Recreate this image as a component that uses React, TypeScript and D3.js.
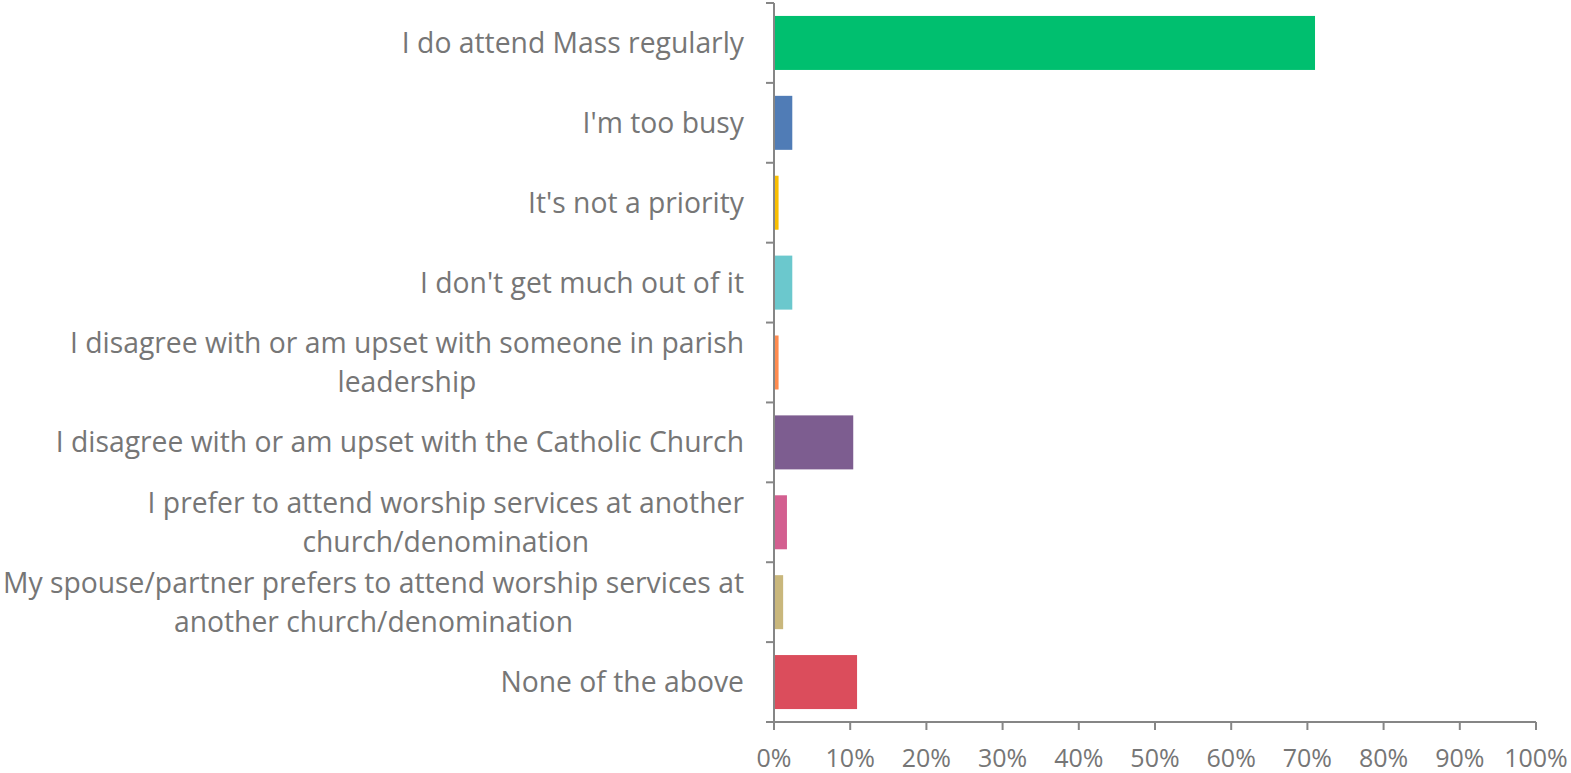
import React, { useEffect, useRef } from "react";
import * as d3 from "d3";

const categories: string[] = [
  "I do attend Mass regularly",
  "I'm too busy",
  "It's not a priority",
  "I don't get much out of it",
  "I disagree with or am upset with someone in parish\nleadership",
  "I disagree with or am upset with the Catholic Church",
  "I prefer to attend worship services at another\nchurch/denomination",
  "My spouse/partner prefers to attend worship services at\nanother church/denomination",
  "None of the above",
];
const values: number[] = [0.71, 0.024, 0.006, 0.024, 0.006, 0.104, 0.017, 0.012, 0.109];
const colors: string[] = [
  "#00BF6F", "#507CB6", "#F9BE00", "#6BC8CD", "#FF8B4F",
  "#7D5D90", "#D35F90", "#C9B77C", "#DB4D5C",
];
const xTicks: number[] = [0, 0.1, 0.2, 0.3, 0.4, 0.5, 0.6, 0.7, 0.8, 0.9, 1.0];

const W = 1571;
const H = 773;
const FONT = "'Open Sans', sans-serif";
const FS = 28.3;
const TFS = 25;
const TEXT = "#767676";
const AXIS = "#868686";

export default function App() {
  const ref = useRef<SVGSVGElement>(null);
  useEffect(() => {
    const svg = d3.select(ref.current);
    svg.selectAll("*").remove();
    const x = d3.scaleLinear().domain([0, 1]).range([774, 1536]);
    const y = d3.scaleBand<string>().domain(categories).range([3, 722]).paddingInner(0.324).paddingOuter(0.162);

    svg.append("g").selectAll("rect").data(categories).join("rect")
      .attr("x", x(0))
      .attr("y", (d) => y(d)!)
      .attr("width", (d, i) => x(values[i]) - x(0))
      .attr("height", y.bandwidth())
      .attr("fill", (d, i) => colors[i]);

    const g = svg.append("g").attr("stroke", AXIS).attr("stroke-width", 2).attr("fill", "none");
    g.append("line").attr("x1", x(0)).attr("x2", x(0)).attr("y1", 3).attr("y2", 722);
    g.append("line").attr("x1", x(0) - 8).attr("x2", x(1)).attr("y1", 722).attr("y2", 722);
    const bounds = d3.range(categories.length + 1).map((i) => 3 + i * (719 / categories.length));
    g.selectAll("line.yt").data(bounds).join("line").attr("class", "yt")
      .attr("x1", x(0) - 8).attr("x2", x(0)).attr("y1", (d) => d).attr("y2", (d) => d);
    g.selectAll("line.xt").data(xTicks).join("line").attr("class", "xt")
      .attr("x1", (d) => x(d)).attr("x2", (d) => x(d)).attr("y1", 722).attr("y2", 730);

    const fmt = d3.format(".0%");
    svg.append("g").selectAll("text").data(xTicks).join("text")
      .attr("x", (d) => x(d)).attr("y", 767)
      .attr("text-anchor", "middle")
      .attr("font-family", FONT).attr("font-size", TFS).attr("fill", TEXT)
      .text((d) => fmt(d));

    const lg = svg.append("g");
    categories.forEach((c) => {
      const lines = c.split("\n");
      const cy = y(c)! + y.bandwidth() / 2;
      const lh = 39;
      const texts = lines.map((l, j) =>
        lg.append("text")
          .attr("y", cy + (j - (lines.length - 1) / 2) * lh)
          .attr("dy", "0.35em")
          .attr("font-family", FONT).attr("font-size", FS).attr("fill", TEXT)
          .text(l)
      );
      const widths = texts.map((t) => (t.node() as SVGTextElement).getComputedTextLength());
      const maxW = Math.max(...widths);
      const cx = 744 - maxW / 2;
      texts.forEach((t) => t.attr("x", cx).attr("text-anchor", "middle"));
    });
  }, []);
  return (
    <svg ref={ref} width={W} height={H} style={{ position: "absolute", left: 0, top: 0, background: "#fff" }} />
  );
}
